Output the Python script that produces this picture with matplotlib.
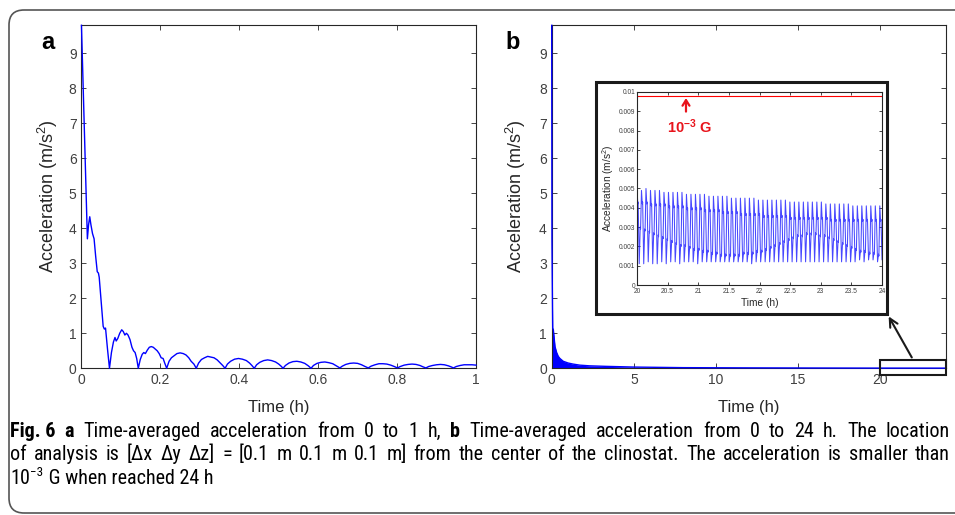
import re
import numpy as np
import matplotlib
matplotlib.use('Agg')
import matplotlib.pyplot as plt
from matplotlib import font_manager
from matplotlib.patches import FancyBboxPatch, Rectangle

# ---- panel a: time-averaged acceleration, 0 to 1 h ----
t_a = [0, 0.004, 0.008, 0.012, 0.015, 0.018, 0.021, 0.024, 0.028, 0.032, 0.036, 0.040, 0.043, 0.045,
       0.050, 0.055, 0.058, 0.061, 0.066, 0.071,
       0.076, 0.081, 0.085, 0.088, 0.092, 0.097, 0.102, 0.106, 0.110, 0.114, 0.118, 0.123, 0.128,
       0.132, 0.136, 0.140, 0.144,
       0.149, 0.154, 0.158, 0.162, 0.167, 0.172, 0.177, 0.182, 0.187, 0.192, 0.197, 0.202, 0.207,
       0.211, 0.216,
       0.222, 0.228, 0.235, 0.242, 0.250, 0.258, 0.265, 0.272, 0.278, 0.285, 0.291,
       0.297, 0.304, 0.312, 0.320, 0.328, 0.336, 0.344, 0.352, 0.358, 0.364,
       0.370, 0.378, 0.388, 0.398, 0.408, 0.418, 0.426, 0.432, 0.438,
       0.444, 0.452, 0.462, 0.472, 0.482, 0.492, 0.500, 0.506, 0.511,
       0.517, 0.526, 0.536, 0.546, 0.556, 0.566, 0.575, 0.582,
       0.588, 0.597, 0.607, 0.617, 0.627, 0.637, 0.646, 0.655,
       0.661, 0.670, 0.680, 0.690, 0.700, 0.710, 0.719, 0.727,
       0.734, 0.744, 0.754, 0.764, 0.774, 0.784, 0.793, 0.801,
       0.808, 0.818, 0.828, 0.838, 0.848, 0.858, 0.866, 0.873,
       0.880, 0.890, 0.900, 0.910, 0.920, 0.930, 0.937, 0.943,
       0.950, 0.960, 0.970, 0.980, 0.990, 1.0]
acc_a = [9.8, 8.2, 6.5, 5.0, 3.7, 4.1, 4.33, 4.1, 3.85, 3.7, 3.2, 2.76, 2.72, 2.6,
         1.9, 1.2, 1.12, 1.15, 0.55, 0.0,
         0.45, 0.75, 0.88, 0.78, 0.85, 1.0, 1.1, 1.05, 0.95, 1.0, 0.95, 0.82, 0.6,
         0.5, 0.45, 0.28, 0.0,
         0.25, 0.4, 0.45, 0.42, 0.52, 0.6, 0.62, 0.6, 0.55, 0.5, 0.42, 0.3, 0.28,
         0.15, 0.0,
         0.2, 0.3, 0.36, 0.42, 0.44, 0.42, 0.38, 0.3, 0.2, 0.12, 0.0,
         0.15, 0.25, 0.3, 0.34, 0.32, 0.3, 0.24, 0.15, 0.08, 0.0,
         0.12, 0.2, 0.26, 0.28, 0.26, 0.22, 0.15, 0.08, 0.0,
         0.1, 0.17, 0.22, 0.24, 0.22, 0.18, 0.12, 0.06, 0.0,
         0.08, 0.15, 0.19, 0.2, 0.18, 0.14, 0.07, 0.0,
         0.08, 0.14, 0.17, 0.18, 0.16, 0.13, 0.07, 0.01,
         0.06, 0.11, 0.14, 0.15, 0.14, 0.10, 0.05, 0.01,
         0.06, 0.10, 0.13, 0.13, 0.12, 0.09, 0.05, 0.01,
         0.05, 0.09, 0.11, 0.12, 0.11, 0.08, 0.04, 0.01,
         0.05, 0.08, 0.10, 0.11, 0.10, 0.07, 0.04, 0.01,
         0.05, 0.08, 0.10, 0.10, 0.10, 0.09]

# ---- panel b: envelope of the 0-24 h curve ----
t_b = [0, 0.015, 0.03, 0.06, 0.1, 0.2, 0.3, 0.4, 0.5, 0.7, 1.0, 1.3, 1.7, 2.3, 3.3, 5, 8, 12, 16, 20, 24]
acc_b = [9.8, 3.7, 2.7, 1.15, 1.1, 0.62, 0.45, 0.34, 0.28, 0.2, 0.15, 0.12, 0.09, 0.07, 0.055,
         0.035, 0.018, 0.012, 0.008, 0.005, 0.004]

# ---- inset: 20-24 h, one entry per oscillation cycle ----
inset_peak = [0.0050, 0.0049, 0.0050, 0.0049, 0.0049, 0.0049, 0.0048, 0.0048, 0.0048, 0.0048,
              0.0048, 0.0047, 0.0047, 0.0047, 0.0047, 0.0047, 0.0046, 0.0046, 0.0046, 0.0046,
              0.0046, 0.0045, 0.0045, 0.0045, 0.0045, 0.0045, 0.0045, 0.0044, 0.0044, 0.0044,
              0.0044, 0.0044, 0.0044, 0.0044, 0.0043, 0.0043, 0.0043, 0.0043, 0.0043, 0.0043,
              0.0043, 0.0043, 0.0042, 0.0042, 0.0042, 0.0042, 0.0042, 0.0042, 0.0041, 0.0041,
              0.0041, 0.0041, 0.0041, 0.0041, 0.0041]
inset_trough = [0.0011, 0.0011, 0.0012, 0.0011, 0.0011, 0.0012, 0.0011, 0.0012, 0.0012, 0.0011,
                0.0012, 0.0012, 0.0012, 0.0011, 0.0012, 0.0012, 0.0012, 0.0012, 0.0012, 0.0012,
                0.0012, 0.0012, 0.0012, 0.0012, 0.0012, 0.0011, 0.0012, 0.0012, 0.0012, 0.0012,
                0.0012, 0.0012, 0.0012, 0.0012, 0.0012, 0.0012, 0.0012, 0.0012, 0.0012, 0.0012,
                0.0012, 0.0012, 0.0012, 0.0012, 0.0012, 0.0012, 0.0012, 0.0012, 0.0012, 0.0013,
                0.0012, 0.0013, 0.0013, 0.0012, 0.0013]
inset_upper = [0.0042, 0.0042, 0.0042, 0.0041, 0.0041, 0.0041, 0.0041, 0.0040, 0.0040, 0.0040,
               0.0040, 0.0039, 0.0039, 0.0039, 0.0039, 0.0038, 0.0038, 0.0038, 0.0038, 0.0037,
               0.0037, 0.0037, 0.0037, 0.0036, 0.0036, 0.0036, 0.0036, 0.0036, 0.0035, 0.0035,
               0.0035, 0.0035, 0.0035, 0.0035, 0.0034, 0.0034, 0.0034, 0.0034, 0.0034, 0.0034,
               0.0034, 0.0034, 0.0034, 0.0033, 0.0033, 0.0033, 0.0033, 0.0033, 0.0033, 0.0033,
               0.0033, 0.0033, 0.0033, 0.0033, 0.0033]
inset_lower = [0.0030, 0.0029, 0.0028, 0.0027, 0.0026, 0.0025, 0.0024, 0.0023, 0.0022, 0.0021,
               0.0021, 0.0020, 0.0019, 0.0019, 0.0018, 0.0018, 0.0017, 0.0017, 0.0016, 0.0016,
               0.0016, 0.0016, 0.0016, 0.0017, 0.0017, 0.0017, 0.0018, 0.0018, 0.0019, 0.0020,
               0.0021, 0.0022, 0.0023, 0.0024, 0.0025, 0.0026, 0.0026, 0.0027, 0.0027, 0.0027,
               0.0026, 0.0026, 0.0025, 0.0024, 0.0023, 0.0022, 0.0021, 0.0020, 0.0019, 0.0018,
               0.0018, 0.0017, 0.0017, 0.0016, 0.0016]
limit_1e3g = 0.0098

caption = [
    "**Fig. 6** **a** Time-averaged acceleration from 0 to 1 h, **b** Time-averaged acceleration from 0 to 24 h. The location",
    "of analysis is [\u0394x \u0394y \u0394z] = [0.1 m 0.1 m 0.1 m] from the center of the clinostat. The acceleration is smaller than",
]
caption_last = ("10", "\u22123", " G when reached 24 h")

plt.rcParams['font.family'] = ['Liberation Sans', 'DejaVu Sans']
plt.rcParams['mathtext.fontset'] = 'custom'
plt.rcParams['mathtext.rm'] = 'Liberation Sans'
plt.rcParams['mathtext.bf'] = 'Liberation Sans:bold'
plt.rcParams['mathtext.it'] = 'Liberation Sans:italic'

# pick a narrow sans for the caption if one is installed
names = {f.name for f in font_manager.fontManager.ttflist}
cap_font, cap_stretch = 'Liberation Sans', 'normal'
for cand in ['Liberation Sans Narrow', 'Roboto Condensed', 'Open Sans Condensed', 'Noto Sans Condensed']:
    if cand in names:
        cap_font = cand
        break

gray = '#262626'
fig = plt.figure(figsize=(9.55, 5.15), dpi=100)


def style_axes(ax, size=9):
    for s in ax.spines.values():
        s.set_color(gray)
        s.set_linewidth(0.8)
    ax.tick_params(direction='in', top=True, right=True, length=3.5, width=0.6,
                   labelsize=size, colors=gray, labelcolor='#404040')


# panel a
ax_a = fig.add_axes([0.0853, 0.2849, 0.4131, 0.6666])
ax_a.plot(t_a, acc_a, color='#0000ff', lw=1.0, zorder=3, clip_on=False)
ax_a.set_xlim(0, 1)
ax_a.set_ylim(0, 9.81)
ax_a.set_xticks([0, 0.2, 0.4, 0.6, 0.8, 1])
ax_a.set_xticklabels(['0', '0.2', '0.4', '0.6', '0.8', '1'])
ax_a.set_yticks(range(10))
style_axes(ax_a, 10)
ax_a.set_xlabel('Time (h)', fontsize=12, color=gray, labelpad=9)
ax_a.set_ylabel('Acceleration (m/s$^2$)', fontsize=13, color=gray, labelpad=6)

# panel b
ax_b = fig.add_axes([0.5777, 0.2849, 0.4129, 0.6666])
ax_b.fill_between(t_b, 0, acc_b, color='#0000ff', lw=0)
ax_b.plot(t_b, acc_b, color='#0000ff', lw=1.0, zorder=3, clip_on=False)
ax_b.set_xlim(0, 24)
ax_b.set_ylim(0, 9.81)
ax_b.set_xticks([0, 5, 10, 15, 20])
ax_b.set_yticks(range(10))
style_axes(ax_b, 10)
ax_b.set_xlabel('Time (h)', fontsize=12, color=gray, labelpad=9)
ax_b.set_ylabel('Acceleration (m/s$^2$)', fontsize=13, color=gray, labelpad=8)

# zoom box on panel b and arrow to the inset frame
ax_b.add_patch(Rectangle((20, -0.19), 4, 0.43, fill=False, ec='#1a1a1a', lw=1.5, clip_on=False,
                         zorder=4))
ax_b.annotate('', xy=(0.9291, 0.3903), xycoords='figure fraction', xytext=(22.0, 0.24),
              textcoords='data',
              arrowprops=dict(arrowstyle='->,head_length=0.6,head_width=0.3', lw=1.5, color='#1a1a1a'))

# inset frame and inset axes
fig.add_artist(Rectangle((0.6238, 0.3903), 0.3053, 0.4499, transform=fig.transFigure,
                         fc='white', ec='#1a1a1a', lw=2.2, zorder=1))
ax_in = fig.add_axes([0.667, 0.4466, 0.2566, 0.3748])
ax_in.set_zorder(2)
n = len(inset_peak)
period = 4.0 / (n - 0.5)
frac = [0, 0.18, 0.26, 0.5, 0.72, 0.8]
ts, vs = [], []
for i in range(n):
    t0 = 20 + i * period
    vals = [inset_peak[i], inset_upper[i], inset_upper[i] + 0.0001, inset_trough[i],
            inset_lower[i], inset_lower[i] - 0.0001]
    for f, v in zip(frac, vals):
        ts.append(t0 + f * period)
        vs.append(v)
ax_in.plot(ts, vs, color='#1a1aff', lw=0.75, alpha=0.8)
ax_in.axhline(limit_1e3g, color='red', lw=0.8)
ax_in.annotate('', xy=(20.8, 0.00983), xytext=(20.8, 0.00884),
               arrowprops=dict(arrowstyle='->,head_length=0.4,head_width=0.25', lw=1.6, color='#e8141c'))
ax_in.text(20.85, 0.0082, '10$^{\\mathbf{-3}}$ G', color='#e8141c', fontsize=10.5,
           fontweight='bold', ha='center', va='center')
ax_in.set_xlim(20, 24)
ax_in.set_ylim(0, 0.01)
ax_in.set_xticks([20, 20.5, 21, 21.5, 22, 22.5, 23, 23.5, 24])
ax_in.set_xticklabels(['20', '20.5', '21', '21.5', '22', '22.5', '23', '23.5', '24'])
ax_in.set_yticks(np.arange(0, 0.0101, 0.001))
ax_in.set_yticklabels(['0', '0.001', '0.002', '0.003', '0.004', '0.005', '0.006', '0.007',
                       '0.008', '0.009', '0.01'])
style_axes(ax_in, 4.8)
ax_in.tick_params(length=2, pad=1.2)
ax_in.tick_params(axis='x', pad=2)
ax_in.set_xlabel('Time (h)', fontsize=7.3, color=gray, labelpad=2.5)
ax_in.set_ylabel('Acceleration (m/s$^2$)', fontsize=7.3, color=gray, labelpad=2)

# panel letters
fig.text(0.050, 0.918, 'a', fontsize=17, fontweight='bold', ha='center', va='center')
fig.text(0.537, 0.918, 'b', fontsize=17, fontweight='bold', ha='center', va='center')

# outer rounded frame
fig.add_artist(FancyBboxPatch((0.09, 0.02), 9.8, 5.03, boxstyle='round,pad=0,rounding_size=0.15',
                              transform=fig.dpi_scale_trans, fill=False, ec='#555555', lw=1.2))

# caption, justified to the frame width
renderer = fig.canvas.get_renderer()
px = fig.dpi / 72.0


def prop(size, bold):
    return font_manager.FontProperties(family=cap_font, size=size, stretch=cap_stretch,
                                       weight='bold' if bold else 'normal')


def tokens(line):
    out = []
    for tok in re.findall(r'\*\*.+?\*\*|\S+', line):
        if tok.startswith('**'):
            out.append((tok[2:-2], True))
        else:
            out.append((tok, False))
    return out


def width(s, size, bold):
    return renderer.get_text_width_height_descent(s, prop(size, bold), ismath=False)[0]


x_left, x_right = 10.0, 950.0
W, H = 955.0, 515.0
cap_size = 13.0
natural = []
for line in caption:
    toks = tokens(line)
    w = sum(width(t, cap_size, b) for t, b in toks) + 1.1 * width(' ', cap_size, False) * (len(toks) - 1)
    natural.append(w)
cap_size = min(14.5, cap_size * (x_right - x_left) / max(natural))

baselines = [437, 460, 484]
for line, yb in zip(caption, baselines):
    toks = tokens(line)
    ws = [width(t, cap_size, b) for t, b in toks]
    gap = (x_right - x_left - sum(ws)) / (len(toks) - 1)
    x = x_left
    for (t, b), w in zip(toks, ws):
        fig.text(x / W, (H - yb) / H, t, fontproperties=prop(cap_size, b), va='baseline', ha='left')
        x += w + gap

x = x_left
yb = baselines[2]
fig.text(x / W, (H - yb) / H, caption_last[0], fontproperties=prop(cap_size, False), va='baseline')
x += width(caption_last[0], cap_size, False)
fig.text(x / W, (H - yb + 0.42 * cap_size * px) / H, caption_last[1],
         fontproperties=prop(cap_size * 0.65, False), va='baseline')
x += width(caption_last[1], cap_size * 0.65, False) + 0.5
fig.text(x / W, (H - yb) / H, caption_last[2], fontproperties=prop(cap_size, False), va='baseline')

fig.savefig('out.png', dpi=100)
